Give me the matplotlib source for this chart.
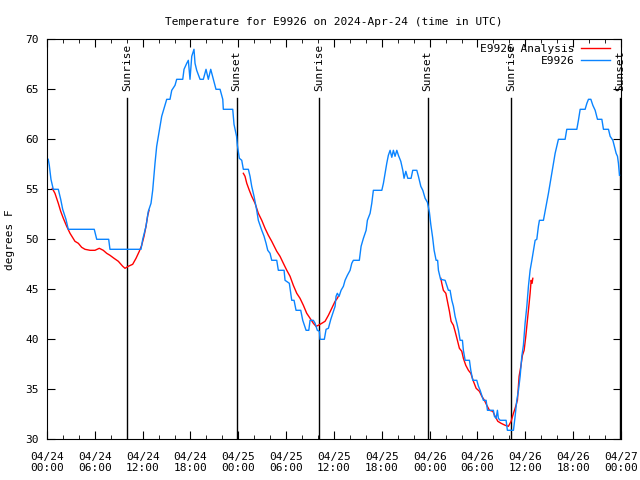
import numpy as np
import matplotlib
matplotlib.use("Agg")
import matplotlib.pyplot as plt
import matplotlib.dates as mdates
from datetime import datetime, timedelta

# hours since 2024-04-24 00:00 UTC, temperatures in F
obs_hours = [0.16, 0.29, 0.50, 0.79, 1.42, 1.72, 1.97, 2.38, 2.67, 5.93, 6.24, 7.74, 7.90,
             11.79, 12.01, 12.42, 12.71, 13.05, 13.26, 13.55, 13.76, 14.09, 14.39, 14.68,
             15.02, 15.43, 15.65, 16.06, 16.27, 17.03, 17.19, 17.53, 17.73, 17.94, 18.16,
             18.44, 18.57, 18.78, 19.20, 19.61, 19.95, 20.24, 20.54, 20.87, 21.20, 21.71,
             22.05, 22.12, 23.30, 23.46, 23.78, 23.88, 24.13, 24.43, 24.63, 25.26, 25.47,
             25.68, 25.97, 26.31, 26.51, 26.94, 27.23, 27.48, 27.69, 27.98, 28.19, 28.82,
             29.02, 29.74, 29.86, 30.40, 30.70, 30.99, 31.24, 31.83, 32.08, 32.50, 32.84,
             33.00, 33.41, 33.63, 33.91, 34.17, 34.25, 34.79, 35.01, 35.30, 35.60, 35.85,
             36.14, 36.26, 36.42, 36.64, 36.89, 37.18, 37.39, 37.68, 38.02, 38.23, 38.43,
             39.18, 39.40, 39.69, 40.03, 40.19, 40.53, 40.74, 40.94, 42.00, 42.20, 42.41,
             42.62, 42.82, 43.04, 43.25, 43.45, 43.66, 43.88, 44.08, 44.38, 44.63, 44.79,
             45.01, 45.26, 45.67, 45.88, 46.39, 46.59, 46.89, 47.14, 47.43, 47.72, 47.97,
             48.14, 48.37, 48.56, 48.81, 49.00, 49.10, 49.37, 49.94, 50.15, 50.35, 50.56,
             50.78, 50.98, 51.19, 51.41, 51.61, 51.82, 52.11, 52.23, 52.45, 52.99, 53.16,
             53.41, 53.91, 54.12, 54.33, 54.54, 54.74, 55.08, 55.25, 56.00, 56.12, 56.34,
             56.50, 56.62, 56.84, 57.59, 57.75, 58.51, 58.72, 58.93, 59.14, 59.35, 59.56,
             59.76, 59.97, 60.19, 60.39, 60.60, 60.82, 61.02, 61.23, 61.44, 61.64, 61.77,
             62.27, 62.48, 62.70, 62.90, 63.11, 63.32, 63.53, 63.74, 63.95, 64.15, 64.99,
             65.20, 66.46, 66.66, 66.88, 67.50, 67.72, 67.92, 68.22, 68.47, 68.76, 69.05,
             69.60, 69.80, 70.43, 70.64, 70.98, 71.14, 71.39, 71.56, 71.68, 71.81]
obs_temp = [58.0, 57.4, 56, 55, 55, 54, 53, 52, 51, 51, 50, 50, 49,
            49, 50, 51.3, 52.8, 53.6, 54.9, 57.6, 59.3, 60.9, 62.3, 63.1,
            64, 64, 64.9, 65.4, 66, 66, 67, 67.6, 67.9, 66, 68.3,
            69, 67.6, 66.9, 66, 66, 67, 66, 67, 66, 65, 65,
            64, 63, 63, 61.5, 60.3, 59.4, 58.1, 57.9, 57, 57, 56.3,
            55.3, 54.3, 52.9, 51.9, 50.9, 50.3, 49.6, 48.9, 48.6, 47.9, 47.9,
            46.9, 46.9, 45.9, 45.6, 43.9, 43.9, 42.9, 42.9, 41.9, 40.9, 40.9,
            41.9, 41.9, 41.6, 40.9, 40.8, 40, 40, 41, 41.1, 42, 42.6,
            43.3, 44.3, 44.6, 44.3, 44.9, 45.3, 45.9, 46.4, 46.9, 47.6, 47.9,
            47.9, 49.3, 50.1, 50.9, 51.9, 52.6, 53.6, 54.9, 54.9, 55.6, 56.6,
            57.6, 58.4, 58.9, 58.2, 58.9, 58.3, 58.9, 58.4, 57.8, 56.9, 56.1,
            56.8, 56.1, 56.1, 56.9, 56.9, 56.3, 55.3, 54.9, 54.1, 53.7, 52.7,
            51.5, 50.2, 48.9, 47.9, 47.9, 46.9, 46, 45.9, 45.4, 44.9, 44.9,
            43.9, 43.3, 42.3, 41.6, 40.9, 39.9, 39.9, 38.9, 37.9, 37.9, 36.9,
            35.9, 35.9, 35.3, 34.9, 34.4, 33.9, 33.9, 32.9, 32.9, 32.3, 32.1,
            32.9, 32.1, 31.9, 31.9, 30.9, 30.9, 32.3, 33.9, 34.9, 36.3, 38.3,
            39.4, 41.6, 43.3, 45.3, 46.9, 47.9, 48.9, 49.9, 50, 51.3, 51.9,
            51.9, 52.8, 53.8, 54.6, 55.6, 56.6, 57.6, 58.6, 59.3, 60, 60,
            61, 61, 61.9, 63, 63, 63.6, 64, 64, 63.4, 62.9, 62,
            62, 61, 61, 60.3, 59.9, 59.4, 58.6, 58.3, 57.6, 56.4]

an1_hours = [0.66, 1.00, 1.42, 1.72, 2.05, 2.47, 2.89, 3.51, 3.93, 4.35, 4.77, 5.40, 6.02,
             6.56, 7.06, 7.49, 7.90, 8.41, 8.95, 9.50, 9.79, 10.20, 10.75, 11.17, 11.58,
             11.88, 12.17, 12.42, 12.64, 12.80]
an1_temp = [55.1, 54.6, 53.6, 52.8, 52.1, 51.3, 50.6, 49.8, 49.6, 49.2, 49.0, 48.9, 48.9,
            49.1, 48.9, 48.6, 48.4, 48.1, 47.8, 47.3, 47.1, 47.3, 47.5, 48.1, 48.8,
            49.4, 50.3, 51.3, 52.4, 52.9]
an2_hours = [24.63, 24.84, 25.06, 25.38, 25.68, 26.10, 26.51, 26.94, 27.35, 27.77, 28.19,
             28.82, 29.23, 29.65, 30.08, 30.49, 30.90, 31.33, 31.74, 32.16, 32.58, 33.00,
             33.41, 33.75, 34.04, 34.47, 34.88, 35.30, 35.72, 36.14, 36.42, 36.55]
an2_temp = [56.6, 56.3, 55.6, 54.9, 54.3, 53.6, 52.6, 51.9, 51.1, 50.4, 49.8,
            48.8, 48.3, 47.6, 46.9, 46.3, 45.4, 44.6, 44.1, 43.4, 42.6, 42.1,
            41.6, 41.3, 41.4, 41.6, 41.8, 42.4, 43.1, 43.8, 44.1, 44.3]
an3_hours = [49.40, 49.52, 49.72, 50.03, 50.23, 50.48, 50.69, 50.98, 51.19, 51.48, 51.73,
             52.03, 52.23, 52.53, 52.86, 53.16, 53.49, 53.83, 54.24, 54.54, 54.87, 55.17,
             55.50, 55.92, 56.21, 56.55, 56.96, 57.47, 57.88, 58.22, 58.51, 58.72, 59.01,
             59.22, 59.44, 59.64, 59.85, 60.06, 60.26, 60.44, 60.60, 60.73, 60.85, 60.94]
an3_temp = [46.1, 45.6, 44.9, 44.6, 43.8, 42.8, 41.8, 41.4, 40.8, 39.9, 39.1,
            38.8, 38.1, 37.4, 36.9, 36.6, 35.8, 35.1, 34.8, 34.3, 33.9, 33.4,
            32.9, 32.8, 32.3, 31.8, 31.6, 31.4, 31.3, 31.8, 32.6, 33.1, 33.9,
            36.3, 37.3, 38.4, 38.9, 40.3, 41.9, 43.3, 44.6, 45.9, 45.6, 46.1]

sun_hours = [10.1, 23.8, 34.15, 47.75, 58.25, 71.9]
sun_labels = ["Sunrise", "Sunset", "Sunrise", "Sunset", "Sunrise", "Sunset"]

start = datetime(2024, 4, 24)
def to_dt(hours):
    return [start + timedelta(hours=h) for h in hours]

plt.rcParams['font.family'] = 'DejaVu Sans Mono'
plt.rcParams['font.size'] = 8

fig = plt.figure(figsize=(6.4, 4.8), dpi=100)
ax = fig.add_axes([0.0734, 0.0848, 0.8969, 0.8333])

for i in range(len(sun_hours)):
    t = start + timedelta(hours=sun_hours[i])
    ax.plot([t, t], [30, 64.1], color='black', lw=1)
    ax.text(t, 64.8, sun_labels[i], rotation=90, ha='center', va='bottom', fontsize=8)

ax.plot(to_dt(an1_hours), an1_temp, color='#ff0000', lw=1, label='E9926 Analysis')
ax.plot(to_dt(an2_hours), an2_temp, color='#ff0000', lw=1)
ax.plot(to_dt(an3_hours), an3_temp, color='#ff0000', lw=1)
ax.plot(to_dt(obs_hours), obs_temp, color='#0a84ff', lw=1, label='E9926')

ax.set_xlim(start, start + timedelta(hours=72))
ax.set_ylim(30, 70)
ax.set_yticks(np.arange(30, 71, 5))
ax.xaxis.set_major_locator(mdates.HourLocator(byhour=[0, 6, 12, 18]))
ax.xaxis.set_minor_locator(mdates.HourLocator(interval=2))
ax.xaxis.set_major_formatter(mdates.DateFormatter('%m/%d\n%H:%M'))
ax.tick_params(which='both', direction='in', top=True, right=True)
ax.tick_params(which='major', length=6)
ax.tick_params(which='minor', length=3)
ax.tick_params(axis='x', pad=9)
ax.tick_params(axis='y', pad=6)

ax.set_title("Temperature for E9926 on 2024-Apr-24 (time in UTC)", fontsize=8, pad=10)
ax.set_ylabel("degrees F", labelpad=7)

ax.legend(loc='upper right', bbox_to_anchor=(0.980, 0.988), frameon=False,
          markerfirst=False, handlelength=2.6, handletextpad=0.55,
          borderaxespad=0, borderpad=0, labelspacing=0.2, fontsize=8)

fig.savefig("out.png", dpi=100)
